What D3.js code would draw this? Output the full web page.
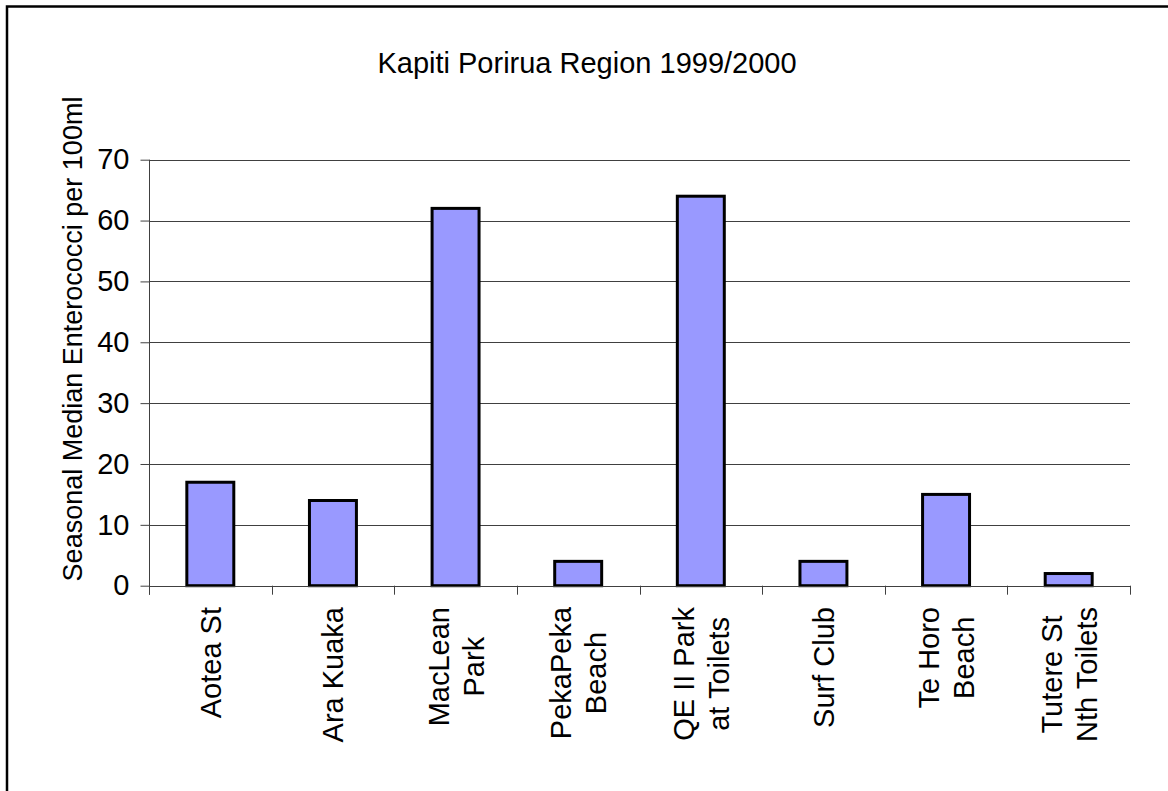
<!DOCTYPE html>
<html>
<head>
<meta charset="utf-8">
<script src="https://cdn.jsdelivr.net/npm/d3@7"></script>
<style>
  html, body { margin: 0; padding: 0; background: #fff; }
  svg { display: block; font-family: Arial, "Liberation Sans", sans-serif; }
</style>
</head>
<body>
<svg id="chart" width="1168" height="791"></svg>
<script>
const categories = [
  ["Aotea St"],
  ["Ara Kuaka"],
  ["MacLean", "Park"],
  ["PekaPeka", "Beach"],
  ["QE II Park", "at Toilets"],
  ["Surf Club"],
  ["Te Horo", "Beach"],
  ["Tutere St", "Nth Toilets"]
];
const values = [17, 14, 62, 4, 64, 4, 15, 2];
const yTicks = [0, 10, 20, 30, 40, 50, 60, 70];
const titleText = "Kapiti Porirua Region 1999/2000";
const yAxisTitle = "Seasonal Median Enterococci per 100ml";

const svg = d3.select("#chart");
const plot = { left: 149, right: 1130, top: 159.7, bottom: 585.7 };

// outer frame (extends beyond the visible area on right/bottom)
svg.append("rect")
  .attr("x", 7).attr("y", 6.5)
  .attr("width", 1200).attr("height", 820)
  .attr("fill", "none").attr("stroke", "#000").attr("stroke-width", 2.5);

const keys = categories.map((c, i) => i);
const x = d3.scaleBand().domain(keys).range([plot.left, plot.right]).padding(0);
const y = d3.scaleLinear().domain([0, 70]).range([plot.bottom, plot.top]);

// gridlines
svg.append("g")
  .selectAll("line")
  .data(yTicks.filter(t => t > 0))
  .join("line")
  .attr("x1", plot.left).attr("x2", plot.right)
  .attr("y1", d => Math.round(y(d)) + 0.5).attr("y2", d => Math.round(y(d)) + 0.5)
  .attr("stroke", "#404040").attr("stroke-width", 1);

// bars
const barW = x.bandwidth() * 0.383;
svg.append("g")
  .selectAll("rect")
  .data(values)
  .join("rect")
  .attr("x", (d, i) => x(i) + x.bandwidth() / 2 - barW / 2)
  .attr("width", barW)
  .attr("y", d => y(d))
  .attr("height", d => y(0) - y(d))
  .attr("fill", "#9999FF")
  .attr("stroke", "#000")
  .attr("stroke-width", 3);

// y axis
const yAxis = d3.axisLeft(y).tickValues(yTicks).tickSize(9).tickPadding(11).tickFormat(d3.format("d"));
const gy = svg.append("g").attr("transform", `translate(${plot.left + 0.5},0)`).call(yAxis);
gy.select(".domain").attr("stroke", "#404040").attr("d", `M0,${plot.top}V${plot.bottom + 9}`);
gy.selectAll(".tick line").attr("stroke", "#404040");
gy.selectAll(".tick text").attr("font-size", 29).attr("fill", "#000")
  .attr("font-family", "Arial, 'Liberation Sans', sans-serif");

// x axis line and ticks at band boundaries
const gx = svg.append("g");
gx.append("line")
  .attr("x1", plot.left).attr("x2", plot.right)
  .attr("y1", Math.round(plot.bottom) + 0.5).attr("y2", Math.round(plot.bottom) + 0.5)
  .attr("stroke", "#404040");
const bounds = keys.map(k => x(k)).concat([plot.right]);
gx.selectAll("line.tk").data(bounds).join("line").attr("class", "tk")
  .attr("x1", d => Math.round(d) + 0.5).attr("x2", d => Math.round(d) + 0.5)
  .attr("y1", plot.bottom).attr("y2", plot.bottom + 9)
  .attr("stroke", "#404040");

// x labels (rotated, block top aligned, lines centered)
const fs = 29;
const lineGap = 35;
const labelTop = 607;
categories.forEach((lines, i) => {
  const cx = x(i) + x.bandwidth() / 2;
  const g = svg.append("g");
  const texts = lines.map(l => g.append("text").text(l).attr("font-size", fs).attr("fill", "#000"));
  const maxLen = d3.max(texts, t => t.node().getComputedTextLength());
  const n = lines.length;
  texts.forEach((t, j) => {
    const off = (j - (n - 1) / 2) * lineGap;
    const bx = cx + off + fs * 0.36;
    const by = labelTop + maxLen / 2;
    t.attr("text-anchor", "middle")
     .attr("transform", `translate(${bx},${by}) rotate(-90)`);
  });
});

// title
svg.append("text")
  .attr("x", 587).attr("y", 73)
  .attr("text-anchor", "middle")
  .attr("font-size", 29)
  .attr("fill", "#000")
  .text(titleText);

// y axis title
svg.append("text")
  .attr("transform", `translate(82,339) rotate(-90)`)
  .attr("text-anchor", "middle")
  .attr("font-size", 27)
  .attr("fill", "#000")
  .text(yAxisTitle);
</script>
</body>
</html>
